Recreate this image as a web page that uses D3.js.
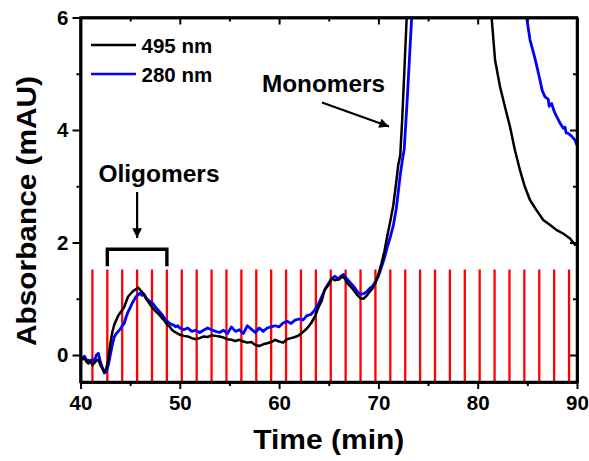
<!DOCTYPE html>
<html>
<head>
<meta charset="utf-8">
<script src="https://cdn.jsdelivr.net/npm/d3@7"></script>
<style>
  html, body { margin: 0; padding: 0; background: #fff; }
  svg { display: block; font-family: "Liberation Sans", Arial, sans-serif; font-weight: bold; }
</style>
</head>
<body>
<svg id="chart" width="589" height="461"></svg>
<script>
// Elution times (min) and absorbance (mAU) at 495 nm
const time495 = [40.0,40.2,40.4,40.6,40.8,41.0,41.2,41.4,41.6,41.8,42.0,42.2,42.4,42.6,42.8,43.0,43.2,43.4,43.6,43.8,
  44.0,44.2,44.4,44.6,44.8,45.0,45.2,45.4,45.6,45.8,46.0,46.2,46.4,46.6,46.8,47.0,47.2,47.4,47.6,47.8,
  48.0,48.2,48.4,48.6,48.8,49.0,49.2,49.4,49.6,49.8,50.0,50.4,50.8,51.2,51.6,52.0,52.4,52.8,53.2,53.6,
  54.0,54.4,54.8,55.2,55.6,56.0,56.4,56.8,57.2,57.6,58.0,58.4,58.8,59.2,59.6,60.0,60.4,60.8,61.2,61.6,
  62.0,62.4,62.8,63.2,63.6,64.0,64.3,64.6,65.0,65.3,65.6,66.0,66.2,66.5,66.8,67.0,67.3,67.6,67.9,68.2,
  68.5,68.8,69.1,69.4,69.7,70.0,70.3,70.6,70.9,71.2,71.5,71.8,72.0,72.2,72.4,72.6,72.85,73.2,74.0,75.5,
  77.0,78.5,80.0,81.0,81.4,81.75,82.25,82.75,83.25,83.75,84.25,84.75,85.25,85.9,86.6,87.3,87.95,88.6,89.3,89.8,90.0];
const abs495 = [-0.03,-0.08,-0.05,-0.12,-0.15,-0.10,-0.18,-0.14,-0.10,-0.08,-0.18,-0.24,-0.30,-0.24,-0.08,0.20,0.40,0.54,0.62,0.70,
  0.75,0.80,0.85,0.95,1.04,1.08,1.12,1.15,1.17,1.20,1.16,1.12,1.07,1.00,0.95,0.90,0.85,0.81,0.77,0.74,
  0.70,0.66,0.62,0.57,0.53,0.50,0.45,0.42,0.40,0.38,0.36,0.34,0.33,0.30,0.28,0.30,0.33,0.32,0.35,0.34,
  0.33,0.31,0.28,0.27,0.25,0.27,0.24,0.22,0.23,0.18,0.16,0.19,0.21,0.23,0.27,0.24,0.22,0.28,0.30,0.32,
  0.35,0.41,0.47,0.56,0.68,0.86,0.97,1.16,1.25,1.36,1.33,1.34,1.37,1.39,1.30,1.25,1.20,1.13,1.06,1.01,
  1.00,1.05,1.12,1.18,1.28,1.44,1.62,1.84,2.12,2.38,2.66,3.08,3.38,3.55,4.20,5.00,6.00,7.5,10.0,13.0,
  14.0,12.0,8.5,6.6,6.0,5.24,4.77,4.41,4.06,3.64,3.29,2.99,2.76,2.58,2.40,2.31,2.22,2.16,2.07,1.96,2.00];

// Elution times (min) and absorbance (mAU) at 280 nm
const time280 = [40.0,40.2,40.4,40.6,40.8,41.0,41.2,41.4,41.6,41.8,42.0,42.2,42.4,42.6,42.8,43.0,43.2,43.4,43.6,43.8,
  44.0,44.2,44.4,44.6,44.8,45.0,45.2,45.4,45.6,45.8,46.0,46.2,46.4,46.6,46.8,47.0,47.2,47.4,47.6,47.8,
  48.0,48.2,48.4,48.6,48.8,49.0,49.2,49.4,49.6,49.8,50.0,50.4,50.8,51.2,51.6,52.0,52.4,52.8,53.2,53.6,
  54.0,54.4,54.8,55.2,55.6,56.0,56.4,56.8,57.2,57.6,58.0,58.4,58.8,59.2,59.6,60.0,60.4,60.8,61.2,61.6,
  62.0,62.4,62.8,63.2,63.6,64.0,64.3,64.6,65.0,65.3,65.6,66.0,66.2,66.5,66.8,67.0,67.3,67.6,67.9,68.2,
  68.5,68.8,69.1,69.4,69.7,70.0,70.3,70.6,70.9,71.2,71.5,71.8,72.0,72.2,72.4,72.6,72.9,73.35,73.8,75.0,
  76.5,78.5,81.0,83.5,84.5,84.93,85.27,85.5,85.77,86.0,86.27,86.5,86.78,87.1,87.2,87.45,87.7,87.95,88.3,88.62,
  88.8,88.9,89.12,89.4,89.8,90.0];
const abs280 = [-0.05,-0.06,-0.02,-0.09,-0.09,-0.12,-0.08,-0.12,0.00,0.03,-0.12,-0.22,-0.32,-0.30,-0.18,0.00,0.18,0.32,0.38,0.42,
  0.46,0.52,0.56,0.68,0.77,0.84,0.92,0.98,1.04,1.07,1.10,1.06,1.08,1.02,0.98,0.95,0.93,0.89,0.84,0.80,
  0.76,0.72,0.67,0.62,0.59,0.56,0.54,0.53,0.50,0.52,0.48,0.45,0.48,0.42,0.44,0.40,0.44,0.48,0.45,0.42,
  0.40,0.44,0.38,0.50,0.42,0.45,0.38,0.52,0.46,0.40,0.48,0.42,0.48,0.50,0.52,0.50,0.57,0.60,0.56,0.62,
  0.64,0.62,0.70,0.72,0.80,0.92,1.04,1.16,1.28,1.36,1.40,1.35,1.40,1.43,1.36,1.32,1.26,1.20,1.12,1.08,
  1.09,1.12,1.18,1.22,1.30,1.40,1.56,1.72,1.92,2.10,2.30,2.60,2.90,3.20,3.45,3.66,4.53,6.00,7.5,11.0,
  14.5,15.0,12.0,8.5,6.8,6.00,5.60,5.45,5.27,5.10,4.89,4.70,4.59,4.55,4.42,4.47,4.33,4.24,4.12,4.03,
  4.05,3.95,3.94,3.90,3.82,3.73];

// Fraction collection marks (min)
const fractionTimes = [41.2,42.7,44.2,45.7,47.2,48.7,50.2,51.7,53.2,54.7,56.2,57.7,59.2,60.7,62.2,63.7,65.2,
  66.7,68.2,69.7,71.2,72.7,74.2,75.7,77.2,78.7,80.2,81.7,83.2,84.7,86.2,87.7,89.2];
const fractionHeight = 1.52;

const xTicks = [40, 50, 60, 70, 80, 90];
const xMinorTicks = [45, 55, 65, 75, 85];
const yTicks = [0, 2, 4, 6];
const yMinorTicks = [1, 3, 5];

const legendLabels = ["495 nm", "280 nm"];
const seriesColors = ["#000000", "#0000ff"];

// Oligomer fraction range
const oligomerRange = [42.7, 48.7];

const svg = d3.select("#chart");
const x = d3.scaleLinear().domain([40, 90]).range([80.5, 577]);
const y = d3.scaleLinear().domain([-0.48, 6]).range([382, 17.5]);

const defs = svg.append("defs");
defs.append("clipPath").attr("id", "plotClip")
  .append("rect").attr("x", x(40)).attr("y", y(6)).attr("width", x(90) - x(40)).attr("height", y(-0.48) - y(6));
defs.append("marker").attr("id", "arrowHead")
  .attr("viewBox", "0 0 10 10").attr("refX", 10).attr("refY", 5)
  .attr("markerWidth", 5).attr("markerHeight", 4.4).attr("markerUnits", "strokeWidth")
  .attr("orient", "auto")
  .append("path").attr("d", "M0,0 L10,5 L0,10 z").attr("fill", "#000");

const plot = svg.append("g").attr("clip-path", "url(#plotClip)");

// fraction marks
plot.selectAll("line.frac").data(fractionTimes).enter().append("line")
  .attr("class", "frac")
  .attr("x1", d => x(d)).attr("x2", d => x(d))
  .attr("y1", y(fractionHeight)).attr("y2", y(-0.48))
  .attr("stroke", "#ff0000").attr("stroke-width", 2.3);

const line = d3.line().x(d => x(d[0])).y(d => y(d[1]));
const s280 = time280.map((t, i) => [t, abs280[i]]);
const s495 = time495.map((t, i) => [t, abs495[i]]);

plot.append("path").datum(s280).attr("d", line)
  .attr("fill", "none").attr("stroke", seriesColors[1]).attr("stroke-width", 2.8).attr("stroke-linejoin", "round");
plot.append("path").datum(s495).attr("d", line)
  .attr("fill", "none").attr("stroke", seriesColors[0]).attr("stroke-width", 2.5).attr("stroke-linejoin", "round");

// axes
const tickFont = g => g.selectAll("text").attr("font-size", 20.5).attr("font-weight", "bold")
  .attr("font-family", "'Liberation Sans', Arial, sans-serif").attr("fill", "#000");

const xAxis = svg.append("g").attr("transform", `translate(0,${y(-0.48)})`)
  .call(d3.axisBottom(x).tickValues(xTicks).tickFormat(d3.format("d")).tickSize(7).tickPadding(6).tickSizeOuter(0));
xAxis.call(tickFont);
svg.append("g").attr("transform", `translate(0,${y(-0.48)})`)
  .call(d3.axisBottom(x).tickValues(xMinorTicks).tickFormat("").tickSize(4).tickSizeOuter(0));

const yAxis = svg.append("g").attr("transform", `translate(${x(40)},0)`)
  .call(d3.axisLeft(y).tickValues(yTicks).tickFormat(d3.format("d")).tickSize(8).tickPadding(4).tickSizeOuter(0));
yAxis.call(tickFont);
svg.append("g").attr("transform", `translate(${x(40)},0)`)
  .call(d3.axisLeft(y).tickValues(yMinorTicks).tickFormat("").tickSize(4).tickSizeOuter(0));

// mirrored top and right axes with inward ticks
svg.append("g").attr("transform", `translate(0,${y(6)})`)
  .call(d3.axisBottom(x).tickValues(xTicks).tickFormat("").tickSize(7).tickSizeOuter(0));
svg.append("g").attr("transform", `translate(0,${y(6)})`)
  .call(d3.axisBottom(x).tickValues(xMinorTicks).tickFormat("").tickSize(4).tickSizeOuter(0));
svg.append("g").attr("transform", `translate(${x(90)},0)`)
  .call(d3.axisLeft(y).tickValues(yTicks).tickFormat("").tickSize(7).tickSizeOuter(0));
svg.append("g").attr("transform", `translate(${x(90)},0)`)
  .call(d3.axisLeft(y).tickValues(yMinorTicks).tickFormat("").tickSize(4).tickSizeOuter(0));

svg.selectAll(".domain").attr("stroke", "#000").attr("stroke-width", 2.5);
svg.selectAll(".tick line").attr("stroke", "#000").attr("stroke-width", 2);

// frame
svg.append("rect").attr("x", x(40)).attr("y", y(6)).attr("width", x(90) - x(40)).attr("height", y(-0.48) - y(6))
  .attr("fill", "none").attr("stroke", "#000").attr("stroke-width", 2.5);

// axis titles
svg.append("text").attr("x", (x(40) + x(90)) / 2).attr("y", 449).attr("text-anchor", "middle")
  .attr("font-size", 27).attr("textLength", 151).attr("lengthAdjust", "spacingAndGlyphs").text("Time (min)");
svg.append("text").attr("transform", "translate(36,211) rotate(-90)").attr("text-anchor", "middle")
  .attr("font-size", 28).attr("textLength", 270).attr("lengthAdjust", "spacingAndGlyphs").text("Absorbance (mAU)");

// legend
legendLabels.forEach((lab, i) => {
  const ly = 45 + i * 29;
  svg.append("line").attr("x1", 91).attr("x2", 136).attr("y1", ly).attr("y2", ly)
    .attr("stroke", seriesColors[i]).attr("stroke-width", 2.4);
  svg.append("text").attr("x", 141.5).attr("y", ly + 7.5).attr("font-size", 20.5).text(lab);
});

// oligomer bracket
const bracketTop = 1.88, bracketLeg = 1.58;
svg.append("path")
  .attr("d", `M${x(oligomerRange[0])},${y(bracketLeg)} L${x(oligomerRange[0])},${y(bracketTop)} L${x(oligomerRange[1])},${y(bracketTop)} L${x(oligomerRange[1])},${y(bracketLeg)}`)
  .attr("fill", "none").attr("stroke", "#000").attr("stroke-width", 3.4);

// annotations
svg.append("text").attr("x", 159).attr("y", 181.5).attr("text-anchor", "middle")
  .attr("font-size", 23).attr("textLength", 121).attr("lengthAdjust", "spacingAndGlyphs").text("Oligomers");
svg.append("line").attr("x1", x(45.7)).attr("x2", x(45.7)).attr("y1", 192).attr("y2", 238)
  .attr("stroke", "#000").attr("stroke-width", 2.2).attr("marker-end", "url(#arrowHead)");

svg.append("text").attr("x", 323.5).attr("y", 92).attr("text-anchor", "middle")
  .attr("font-size", 23).attr("textLength", 123).attr("lengthAdjust", "spacingAndGlyphs").text("Monomers");
svg.append("line").attr("x1", 322).attr("y1", 102.5).attr("x2", 389).attr("y2", 126.5)
  .attr("stroke", "#000").attr("stroke-width", 2.2).attr("marker-end", "url(#arrowHead)");
</script>
</body>
</html>
